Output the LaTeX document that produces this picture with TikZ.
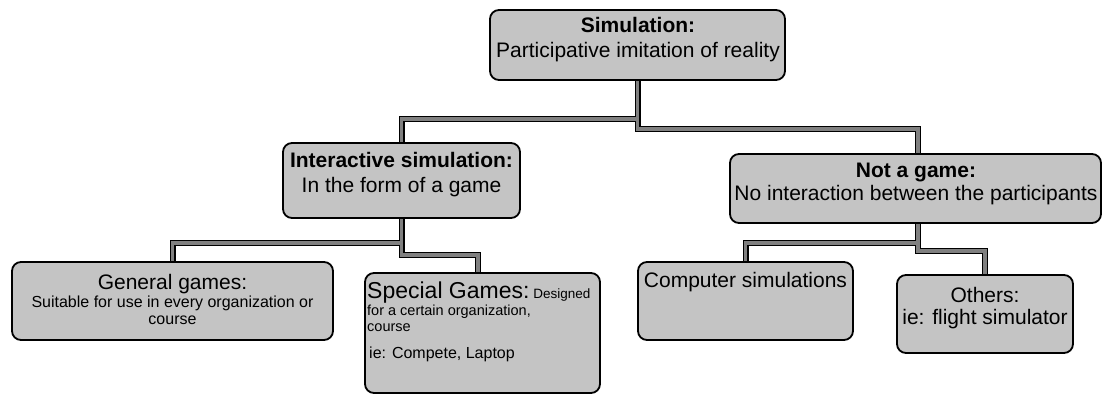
\documentclass[tikz,border=0pt]{standalone}
\usepackage{fontspec}
\setmainfont{Liberation Sans}
\definecolor{boxgray}{RGB}{196,196,196}
\definecolor{conngray}{RGB}{128,128,128}
\newcommand\szL{\fontsize{21bp}{25bp}\selectfont}
\newcommand\szXL{\fontsize{23bp}{27bp}\selectfont}
\newcommand\szM{\fontsize{16bp}{19bp}\selectfont}
\newcommand\szS{\fontsize{14.5bp}{17bp}\selectfont}
\newcommand\szXS{\fontsize{13.5bp}{16bp}\selectfont}
\pgfdeclarelayer{bg}
\pgfsetlayers{bg,main}
\newcommand\connpaths[1]{%
  \draw[#1] (top.south) -- ++(0,39) -| (inter.north);
  \draw[#1] (top.south) -- ++(0,49) -| ([xshift=2.5bp]notgame.north);
  \draw[#1] (inter.south) -- ++(0,25) -| (general.north);
  \draw[#1] (inter.south) -- ++(0,37) -| ([xshift=-4.5bp]special.north);
  \draw[#1] ([xshift=2.5bp]notgame.south) -- ++(0,20) -| (computer.north);
  \draw[#1] ([xshift=2.5bp]notgame.south) -- ++(0,28) -| (others.north);
}
\begin{document}
\begin{tikzpicture}[x=1bp,y=-1bp,
  box/.style={draw=black,line width=1.8bp,rounded corners=9bp,fill=boxgray,inner sep=0pt,outer sep=0pt},
  txt/.style={inner sep=0pt,anchor=base,font=\szL},
  txtl/.style={inner sep=0pt,anchor=base west,font=\szS},
  connout/.style={draw=black,line width=6bp},
  connin/.style={draw=conngray,line width=3.4bp}]
\useasboundingbox (0,0) rectangle (1103,395);
% boxes
\node[box,minimum width=295bp,minimum height=70bp] (top) at (637.5,45) {};
\node[box,minimum width=237bp,minimum height=75bp] (inter) at (401.5,180.5) {};
\node[box,minimum width=371bp,minimum height=69bp] (notgame) at (915.5,188.5) {};
\node[box,minimum width=321bp,minimum height=78bp] (general) at (172.5,301) {};
\node[box,minimum width=235bp,minimum height=120bp] (special) at (482.5,333) {};
\node[box,minimum width=215bp,minimum height=78bp] (computer) at (745.5,301) {};
\node[box,minimum width=176bp,minimum height=78bp] (others) at (985,314) {};
% connectors and background
\begin{pgfonlayer}{bg}
\fill[white] (0,0) rectangle (1103,395);
\connpaths{connout}
\connpaths{connin}
\end{pgfonlayer}
% texts
\node[txt,font=\szL\bfseries] (topa) at (638,32.5) {Simulation:};
\node[txt] (topb) at (638,57.5) {Participative imitation of reality};
\node[txt,font=\szL\bfseries] (intera) at (401.5,167.5) {Interactive simulation:};
\node[txt] (interb) at (401.5,192.5) {In the form of a game};
\node[txt,font=\szL\bfseries] (notgamea) at (916,177.5) {Not a game:};
\node[txt] (notgameb) at (916,200.5) {No interaction between the participants};
\node[txt] (generala) at (172.5,289.5) {General games:};
\node[txt,font=\szM] (generalb) at (172.5,307.8) {Suitable for use in every organization or};
\node[txt,font=\szM] (generalc) at (172.5,324.8) {course};
\node[txtl] (speciala) at (367,298) {{\szXL Special Games:}{\szXS\ Designed}};
\node[txtl] (specialb) at (367,315.3) {for a certain organization,};
\node[txtl] (specialc) at (367,331.3) {course};
\node[txtl,font=\szM] (speciald) at (369,358.8) {ie: Compete, Laptop};
\node[txt] (computera) at (745.5,287.5) {Computer simulations};
\node[txt] (othersa) at (985,302.5) {Others:};
\node[txt] (othersb) at (985,324.5) {ie: flight simulator};
\end{tikzpicture}
\end{document}
